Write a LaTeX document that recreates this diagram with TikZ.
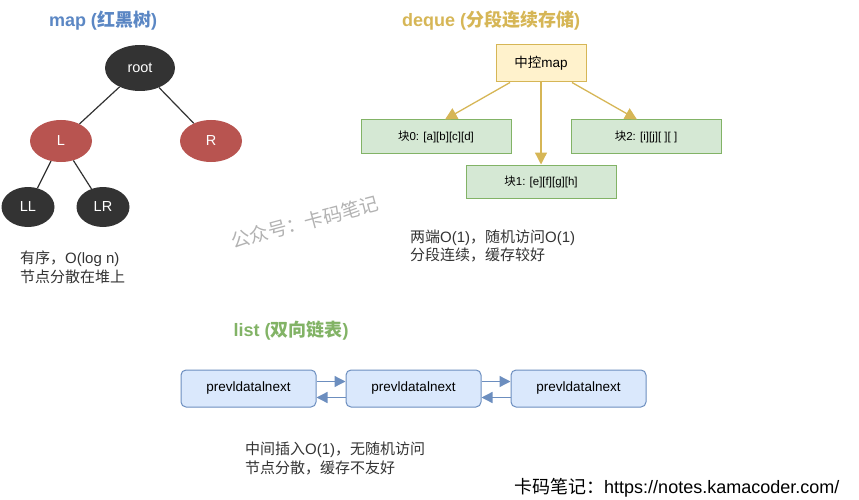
\documentclass[tikz,border=0pt]{standalone}
\usepackage{fontspec}
\setmainfont{Liberation Sans}
\newfontfamily\cjk{Noto Sans CJK SC}
\usetikzlibrary{arrows.meta,positioning,shapes}
\definecolor{mapblue}{HTML}{5B87C4}
\definecolor{dequegold}{HTML}{D6B656}
\definecolor{listgreen}{HTML}{82B366}
\definecolor{rbred}{HTML}{B85450}
\definecolor{rbblack}{HTML}{333333}
\definecolor{ctrlfill}{HTML}{FFF2CC}
\definecolor{blockfill}{HTML}{D5E8D4}
\definecolor{listfill}{HTML}{DAE8FC}
\definecolor{listdraw}{HTML}{6C8EBF}
\definecolor{notegray}{HTML}{333333}

\begin{document}
\begin{tikzpicture}[x=1pt,y=-1pt,
    rbnode/.style={ellipse, inner sep=0pt, text=white, font=\fontsize{14.5}{16}\selectfont},
    title/.style={font=\fontsize{18}{21}\selectfont\bfseries},
    note/.style={anchor=west, align=left, inner sep=0pt, text=notegray, font=\fontsize{15}{18.5}\selectfont},
    block/.style={draw=listgreen, fill=blockfill, line width=1pt, minimum width=150pt, minimum height=33pt, font=\fontsize{11.5}{14}\selectfont},
    cell/.style={draw=listdraw, fill=listfill, line width=1pt, rounded corners=5pt, minimum width=135pt, minimum height=37pt, font=\fontsize{13.5}{15}\selectfont},
    goldarrow/.style={draw=dequegold, line width=1.3pt, -{Triangle[length=12pt,width=12pt]}},
    bluearrow/.style={draw=listdraw, line width=1.3pt, -{Triangle[length=11pt,width=11pt]}}]
    \useasboundingbox (0,0) rectangle (859,500);

    % map
    \node[title, text=mapblue] (maptitle) at (103,21) {map ({\cjk\bfseries 红黑树})};
    \node[rbnode, fill=rbblack, minimum width=70pt, minimum height=46pt] (root) at (140,68) {root};
    \node[rbnode, fill=rbred, minimum width=62pt, minimum height=42pt] (L) at (61,141) {L};
    \node[rbnode, fill=rbred, minimum width=62pt, minimum height=42pt] (R) at (211,141) {R};
    \node[rbnode, fill=rbblack, minimum width=53pt, minimum height=40pt] (LL) at (28,207) {LL};
    \node[rbnode, fill=rbblack, minimum width=53pt, minimum height=40pt] (LR) at (103,207) {LR};
    \draw[line width=1.2pt, rbblack] (root) -- (L);
    \draw[line width=1.2pt, rbblack] (root) -- (R);
    \draw[line width=1.2pt, rbblack] (L) -- (LL);
    \draw[line width=1.2pt, rbblack] (L) -- (LR);
    \node[note] (mapnote) at (20,267.5) {{\cjk 有序，}O(log n)\\{\cjk 节点分散在堆上}};

    % deque
    \node[title, text=dequegold] (dequetitle) at (491,21) {deque ({\cjk\bfseries 分段连续存储})};
    \node[draw=dequegold, fill=ctrlfill, line width=1pt, minimum width=90pt, minimum height=37pt, font=\fontsize{13.5}{15}\selectfont] (ctrl) at (541,63.5) {{\cjk 中控}map};
    \node[block] (blk0) at (436,136.5) {{\cjk 块}0: [a][b][c][d]};
    \node[block] (blk2) at (646,136.5) {{\cjk 块}2: [i][j][ ][ ]};
    \node[block] (blk1) at (541,181.5) {{\cjk 块}1: [e][f][g][h]};
    \draw[goldarrow] ([xshift=-31pt]ctrl.south) -- ([xshift=9pt]blk0.north);
    \draw[goldarrow] (ctrl.south) -- (blk1.north);
    \draw[goldarrow] ([xshift=31pt]ctrl.south) -- ([xshift=-9pt]blk2.north);
    \node[note] (dequenote) at (410,246) {{\cjk 两端}O(1){\cjk ，随机访问}O(1)\\{\cjk 分段连续，缓存较好}};

    % list
    \node[title, text=listgreen] (listtitle) at (291,331) {list ({\cjk\bfseries 双向链表})};
    \node[cell] (n1) at (248.5,388.5) {prevldatalnext};
    \node[cell] (n2) at (413.5,388.5) {prevldatalnext};
    \node[cell] (n3) at (578.5,388.5) {prevldatalnext};
    \draw[bluearrow] ([yshift=7pt]n1.east) -- ([yshift=7pt]n2.west);
    \draw[bluearrow] ([yshift=-9pt]n2.west) -- ([yshift=-9pt]n1.east);
    \draw[bluearrow] ([yshift=7pt]n2.east) -- ([yshift=7pt]n3.west);
    \draw[bluearrow] ([yshift=-9pt]n3.west) -- ([yshift=-9pt]n2.east);
    \node[note] (listnote) at (245,458.5) {{\cjk 中间插入}O(1){\cjk ，无随机访问}\\{\cjk 节点分散，缓存不友好}};

    % watermark and footer
    \node[text=black!30, rotate=15, font=\cjk\fontsize{19}{22}\selectfont] (mark) at (305,222) {公众号：卡码笔记};
    \node[anchor=west, inner sep=0pt, text=black, font=\fontsize{18}{21}\selectfont] (footer) at (514,488) {{\cjk 卡码笔记：}https://notes.kamacoder.com/};
  \end{tikzpicture}
\end{document}
